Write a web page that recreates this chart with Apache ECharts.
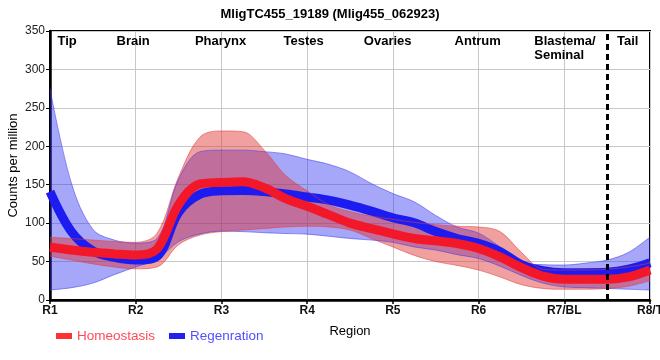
<!DOCTYPE html>
<html>
<head>
<meta charset="utf-8">
<script src="https://cdn.jsdelivr.net/npm/echarts@6/dist/echarts.min.js"></script>
<style>html,body{margin:0;padding:0;background:#fff}#c{width:660px;height:360px}</style>
</head>
<body>
<div id="c"></div>
<script>
// Positions along the body axis, step 0.25 (0 = R1 ... 7 = R8/T)
const xs = [0, 0.25, 0.5, 0.75, 1, 1.25, 1.5, 1.75, 2, 2.25, 2.5, 2.75, 3, 3.25, 3.5, 3.75, 4, 4.25, 4.5, 4.75, 5, 5.25, 5.5, 5.75, 6, 6.25, 6.5, 6.75, 7];

// Homeostasis
const homMean  = [69, 65, 62, 60, 58.5, 66.5, 124, 151, 153, 154, 146, 132, 122, 111, 100, 93, 86, 80, 77, 73.5, 67, 56, 42, 31, 27, 27, 27, 30, 39];
const homUpper = [81.5, 80, 78, 76, 75, 87, 160, 212, 220, 219, 195, 162, 142, 124, 115, 109, 105, 101, 98, 96, 95, 89, 62, 40, 39, 39, 40, 43, 48];
const homLower = [57, 52, 47, 43, 40.5, 43, 72, 84.5, 89, 91, 93, 95, 96, 95, 91, 80, 69, 58, 50, 45, 39, 30, 20, 15, 14, 14, 15, 18, 25];

// Regeneration
const regMean  = [141, 89, 64, 55.5, 52, 57, 114, 137.5, 142, 142.5, 141, 138, 134, 130, 123.4, 115.6, 107, 100.4, 89, 80, 73.7, 63, 46, 38, 35.5, 35.5, 36, 40, 48.5];
const regUpper = [275, 152, 92, 78, 74, 80, 157, 193, 195, 195, 193, 190, 183, 176.6, 166.7, 151.5, 138.5, 127.7, 110, 95, 87, 69, 48, 46, 45.5, 48, 52, 62, 82];
const regLower = [13, 16, 22, 33, 43, 53, 76, 86, 89.5, 89, 87.5, 86.5, 85.7, 83, 80, 78, 75, 69, 65, 59, 54, 44, 32, 22, 17, 16, 15, 14, 13];

const tickLabels = ['R1', 'R2', 'R3', 'R4', 'R5', 'R6', 'R7/BL', 'R8/T'];
const regionNames = ['Tip', 'Brain', 'Pharynx', 'Testes', 'Ovaries', 'Antrum', 'Blastema/\nSeminal', 'Tail'];
const regionPos = [0.2, 0.97, 1.99, 2.96, 3.94, 4.99, 5.65, 6.74];
const regionAlign = ['center', 'center', 'center', 'center', 'center', 'center', 'left', 'center'];
const tailBoundary = 6.5;

const STEP = 0.25;
const chart = echarts.init(document.getElementById('c'), null, {renderer: 'canvas'});
const F = 'Liberation Sans, Arial, sans-serif';

function diff(u, l) { return u.map((v, i) => +(v - l[i]).toFixed(2)); }
const perTick = Math.round(1 / STEP);
const isMajor = i => i % perTick === 0;

const REG_BAND = 'rgba(45,45,240,0.42)';
const HOM_BAND = 'rgba(225,45,45,0.45)';

const option = {
  animation: false,
  backgroundColor: '#fff',
  title: {
    text: 'MligTC455_19189 (Mlig455_062923)',
    left: 'center', top: 3,
    textStyle: {fontFamily: F, fontSize: 13, fontWeight: 'bold', color: '#000'}
  },
  legend: {
    left: 51, top: 324,
    icon: 'rect', itemWidth: 16, itemHeight: 6, itemGap: 14,
    textStyle: {fontFamily: F, fontSize: 13.5},
    data: [
      {name: 'Homeostasis', textStyle: {color: '#ff4a55'}},
      {name: 'Regenration', textStyle: {color: '#5050ff'}}
    ]
  },
  grid: {left: 50, right: 10, top: 31, bottom: 60, show: true, borderColor: '#000', borderWidth: 2,
         outerBoundsMode: 'none', containLabel: false},
  xAxis: {
    type: 'category', boundaryGap: false,
    data: xs.map(String),
    name: 'Region', nameLocation: 'middle', nameGap: 25, nameMoveOverlap: false,
    nameTextStyle: {fontFamily: F, fontSize: 13, color: '#000'},
    axisLine: {show: true, lineStyle: {color: '#000', width: 2.5}},
    axisTick: {show: true, length: 4, interval: (i) => isMajor(i), lineStyle: {color: '#000', width: 1.5}},
    axisLabel: {fontFamily: F, fontSize: 12, fontWeight: 'bold', color: '#111', margin: 5,
      interval: (i) => isMajor(i),
      formatter: (v, i) => tickLabels[Math.round(i * STEP)] || ''},
    splitLine: {show: true, interval: (i) => isMajor(i), lineStyle: {color: '#c8c8c8', width: 1}}
  },
  yAxis: {
    type: 'value', min: 0, max: 350, interval: 50,
    name: 'Counts per million', nameLocation: 'middle', nameGap: 30, nameMoveOverlap: false,
    nameTextStyle: {fontFamily: F, fontSize: 13, color: '#000'},
    axisLine: {show: true, lineStyle: {color: '#000', width: 2.5}},
    axisTick: {show: true, length: 4, lineStyle: {color: '#000', width: 1}},
    axisLabel: {fontFamily: F, fontSize: 12, color: '#222', margin: 5},
    splitLine: {show: true, lineStyle: {color: '#c8c8c8', width: 1}}
  },
  series: [
    {name: 'regLow', type: 'line', stack: 'reg', smooth: 0.35, symbol: 'none',
     data: regLower, lineStyle: {color: 'rgba(60,60,240,0.55)', width: 1}, silent: true},
    {name: 'regBand', type: 'line', stack: 'reg', smooth: 0.35, symbol: 'none',
     data: diff(regUpper, regLower), lineStyle: {color: 'rgba(60,60,240,0.55)', width: 1},
     areaStyle: {color: REG_BAND, opacity: 1}, silent: true},
    {name: 'Regenration', type: 'line', smooth: 0.35, symbol: 'none', color: '#2222ee',
     data: regMean, lineStyle: {color: '#1c1cf0', width: 9}},
    {name: 'homLow', type: 'line', stack: 'hom', smooth: 0.35, symbol: 'none',
     data: homLower, lineStyle: {color: 'rgba(230,60,60,0.55)', width: 1}, silent: true},
    {name: 'homBand', type: 'line', stack: 'hom', smooth: 0.35, symbol: 'none',
     data: diff(homUpper, homLower), lineStyle: {color: 'rgba(230,60,60,0.55)', width: 1},
     areaStyle: {color: HOM_BAND, opacity: 1}, silent: true},
    {name: 'Homeostasis', type: 'line', smooth: 0.35, symbol: 'none', color: '#ff3333',
     data: homMean, lineStyle: {color: '#f2182a', width: 9},
     markLine: {silent: true, symbol: 'none', label: {show: false},
       lineStyle: {color: '#000', type: [6, 4], width: 3},
       data: [{xAxis: Math.round(tailBoundary / STEP)}]}}
  ]
};
chart.setOption(option);

// Map region positions (in R units) to pixels using the axis ends
const p0 = chart.convertToPixel({xAxisIndex: 0}, 0);
const p1 = chart.convertToPixel({xAxisIndex: 0}, xs.length - 1);
const py = chart.convertToPixel({yAxisIndex: 0}, 350);
const span = xs[xs.length - 1] - xs[0];
const graphics = regionNames.map((n, i) => ({
  type: 'text', x: p0 + (p1 - p0) * (regionPos[i] - xs[0]) / span, y: py + 3, z: 100,
  style: {text: n, align: regionAlign[i], verticalAlign: 'top',
    font: 'bold 13px ' + F, fill: '#000', lineHeight: 14}
}));
chart.setOption({graphic: graphics});
</script>
</body>
</html>
